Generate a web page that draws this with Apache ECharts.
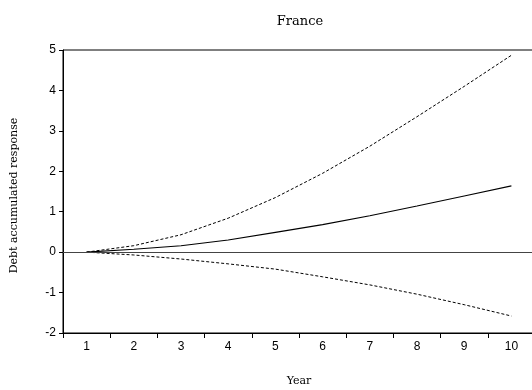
<!DOCTYPE html>
<html>
<head>
<meta charset="utf-8">
<script src="https://cdn.jsdelivr.net/npm/echarts@6/dist/echarts.min.js"></script>
<style>html,body{margin:0;padding:0;background:#fff;}#c{width:532px;height:390px;}</style>
</head>
<body>
<div id="c"></div>
<script>
const years = ['1','2','3','4','5','6','7','8','9','10'];
const response = [0, 0.07, 0.16, 0.30, 0.49, 0.68, 0.90, 1.14, 1.39, 1.64];
const upperBand = [0, 0.16, 0.43, 0.84, 1.35, 1.95, 2.62, 3.35, 4.10, 4.87];
const lowerBand = [0, -0.07, -0.17, -0.29, -0.42, -0.61, -0.81, -1.04, -1.30, -1.58];
const yTicks = [-2, -1, 0, 1, 2, 3, 4, 5];

const chart = echarts.init(document.getElementById('c'), null, {renderer: 'canvas'});
const serif = '"DejaVu Serif", "Liberation Serif", serif';
const sans = '"Liberation Sans", Arial, sans-serif';
chart.setOption({
  animation: false,
  backgroundColor: '#fff',
  title: {
    text: 'France',
    left: 295, top: 10,
    textAlign: 'center',
    textStyle: {fontFamily: serif, fontSize: 13, fontWeight: 'normal', color: '#000'}
  },
  grid: {left: 63, right: -3, top: 50, bottom: 57, show: true, borderColor: '#000', borderWidth: 1,
         containLabel: false, outerBoundsMode: 'none'},
  xAxis: {
    type: 'category',
    data: years,
    boundaryGap: true,
    name: 'Year',
    nameLocation: 'middle',
    nameGap: 43,
    nameTextStyle: {fontFamily: serif, fontSize: 11, color: '#000'},
    axisLine: {onZero: false, lineStyle: {color: '#000', width: 1}},
    axisTick: {show: true, length: 5, inside: false, lineStyle: {color: '#000'}},
    axisLabel: {fontFamily: sans, fontSize: 12, color: '#000', margin: 8},
    splitLine: {show: false}
  },
  yAxis: {
    type: 'value',
    min: yTicks[0], max: yTicks[yTicks.length - 1], interval: 1,
    name: 'Debt accumulated response',
    nameLocation: 'middle',
    nameGap: 43,
    nameTextStyle: {fontFamily: serif, fontSize: 11, color: '#000', padding: [0, 8, 0, 0]},
    axisLine: {show: true, lineStyle: {color: '#000', width: 1}},
    axisTick: {show: true, length: 4, lineStyle: {color: '#000'}},
    axisLabel: {fontFamily: sans, fontSize: 12, color: '#000', margin: 7},
    splitLine: {show: false}
  },
  series: [
    {
      type: 'line', data: response, symbol: 'none', silent: true,
      lineStyle: {color: '#000', width: 1.1, type: 'solid'},
      markLine: {
        silent: true, symbol: 'none', label: {show: false},
        lineStyle: {color: '#444', width: 1, type: 'solid'},
        data: [{yAxis: 0}]
      }
    },
    {
      type: 'line', data: upperBand, symbol: 'none', silent: true,
      lineStyle: {color: '#000', width: 1, type: [3, 2]}
    },
    {
      type: 'line', data: lowerBand, symbol: 'none', silent: true,
      lineStyle: {color: '#000', width: 1, type: [3, 2]}
    }
  ]
});
</script>
</body>
</html>
